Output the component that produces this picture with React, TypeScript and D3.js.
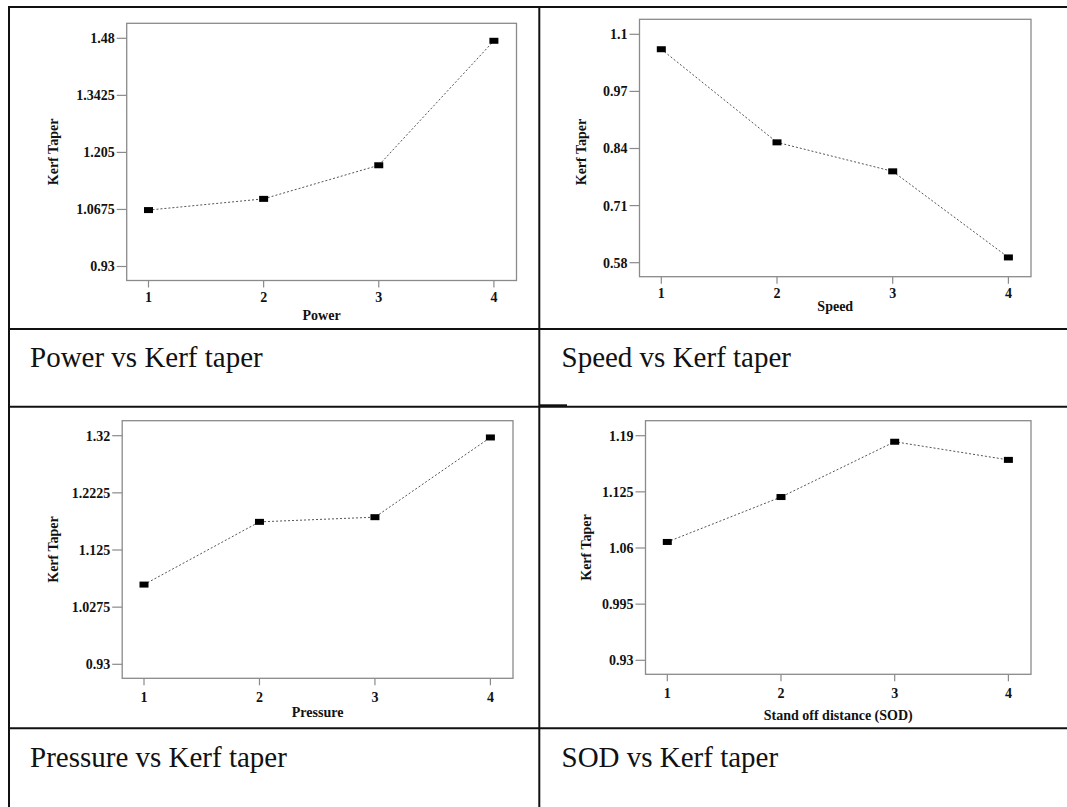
import React from "react";
import * as d3 from "d3";

// ---- data ----
const levels = [1, 2, 3, 4];
const powerTaper = [1.066, 1.093, 1.174, 1.474];
const speedTaper = [1.066, 0.854, 0.788, 0.592];
const pressureTaper = [1.066, 1.173, 1.181, 1.317];
const sodTaper = [1.067, 1.119, 1.183, 1.162];

const powerTicks = [0.93, 1.0675, 1.205, 1.3425, 1.48];
const speedTicks = [0.58, 0.71, 0.84, 0.97, 1.1];
const pressureTicks = [0.93, 1.0275, 1.125, 1.2225, 1.32];
const sodTicks = [0.93, 0.995, 1.06, 1.125, 1.19];

const powerTickLabels = ["0.93", "1.0675", "1.205", "1.3425", "1.48"];
const speedTickLabels = ["0.58", "0.71", "0.84", "0.97", "1.1"];
const pressureTickLabels = ["0.93", "1.0275", "1.125", "1.2225", "1.32"];
const sodTickLabels = ["0.93", "0.995", "1.06", "1.125", "1.19"];

const xTitles = ["Power", "Speed", "Pressure", "Stand off distance (SOD)"];
const yTitle = "Kerf Taper";
const captions = ["Power vs Kerf taper", "Speed vs Kerf taper", "Pressure vs Kerf taper", "SOD vs Kerf taper"];

// ---- layout ----
const W = 1067;
const H = 807;
const serif = "'Liberation Serif', 'Times New Roman', serif";

type Layout = {
  left: number; top: number; right: number; bottom: number;
  yLabelX: number; yLabelDy: number; tickBase: number; titleBase: number; capX: number; capBase: number;
};

const layouts: Layout[] = [
  { left: 126.7, top: 23.3, right: 516.5, bottom: 280.5, yLabelX: 57.5, yLabelDy: 0, tickBase: 302, titleBase: 320, capX: 30, capBase: 367 },
  { left: 639.5, top: 19.3, right: 1031, bottom: 276.7, yLabelX: 586, yLabelDy: 4, tickBase: 298, titleBase: 311, capX: 561.5, capBase: 367 },
  { left: 122.2, top: 420.7, right: 513, bottom: 678.3, yLabelX: 57.5, yLabelDy: 0, tickBase: 702, titleBase: 717, capX: 30, capBase: 767 },
  { left: 645.5, top: 420.7, right: 1031, bottom: 674.3, yLabelX: 590.5, yLabelDy: 0, tickBase: 698, titleBase: 720, capX: 561.5, capBase: 767 },
];

const series = [powerTaper, speedTaper, pressureTaper, sodTaper];
const ticks = [powerTicks, speedTicks, pressureTicks, sodTicks];
const tickLabels = [powerTickLabels, speedTickLabels, pressureTickLabels, sodTickLabels];

const PAD_X = 21.8;
const PAD_TOP = 15;
const PAD_BOT = 14;

function Panel({ i }: { i: number }) {
  const L = layouts[i];
  const vals = series[i];
  const tk = ticks[i];
  const labs = tickLabels[i];
  const x = d3.scaleLinear().domain([1, 4]).range([L.left + PAD_X, L.right - PAD_X - 0.8]);
  const y = d3
    .scaleLinear()
    .domain([d3.min(tk) as number, d3.max(tk) as number])
    .range([L.bottom - PAD_BOT, L.top + PAD_TOP]);
  const line = d3
    .line<number>()
    .x((_, j) => x(levels[j]))
    .y((d) => y(d));
  const cx = (L.left + L.right) / 2;
  const cy = (L.top + L.bottom) / 2;
  return (
    <g>
      <rect
        x={L.left}
        y={L.top}
        width={L.right - L.left}
        height={L.bottom - L.top}
        fill="none"
        stroke="#8a8a8a"
        strokeWidth={1.3}
      />
      {tk.map((t, j) => (
        <g key={"yt" + j}>
          <line x1={L.left - 10} x2={L.left} y1={y(t)} y2={y(t)} stroke="#8a8a8a" strokeWidth={1.2} />
          <text
            x={L.left - 12}
            y={y(t)}
            dy="0.35em"
            textAnchor="end"
            fontFamily={serif}
            fontWeight="bold"
            fontSize={14}
            fill="#111"
          >
            {labs[j]}
          </text>
        </g>
      ))}
      {levels.map((lv) => (
        <g key={"xt" + lv}>
          <line x1={x(lv)} x2={x(lv)} y1={L.bottom} y2={L.bottom + 7} stroke="#8a8a8a" strokeWidth={1.2} />
          <text
            x={x(lv)}
            y={L.tickBase}
            textAnchor="middle"
            fontFamily={serif}
            fontWeight="bold"
            fontSize={14}
            fill="#111"
          >
            {lv}
          </text>
        </g>
      ))}
      <text
        x={cx}
        y={L.titleBase}
        textAnchor="middle"
        fontFamily={serif}
        fontWeight="bold"
        fontSize={14}
        fill="#111"
      >
        {xTitles[i]}
      </text>
      <text
        transform={`translate(${L.yLabelX},${cy + L.yLabelDy}) rotate(-90)`}
        textAnchor="middle"
        fontFamily={serif}
        fontWeight="bold"
        fontSize={14}
        fill="#111"
      >
        {yTitle}
      </text>
      <path d={line(vals) || ""} fill="none" stroke="#555" strokeWidth={1} strokeDasharray="2,2" />
      {vals.map((v, j) => (
        <rect key={"m" + j} x={x(levels[j]) - 4.5} y={y(v) - 3} width={9} height={6} fill="#000" />
      ))}
      <text x={L.capX} y={L.capBase} fontFamily={serif} fontSize={29} fill="#111">
        {captions[i]}
      </text>
    </g>
  );
}

export default function App() {
  return (
    <div style={{ position: "absolute", left: 0, top: 0, width: W, height: H, background: "#fff" }}>
      <svg width={W} height={H} viewBox={`0 0 ${W} ${H}`} style={{ display: "block" }}>
        <rect x={0} y={0} width={W} height={H} fill="#fff" />
        {/* table grid */}
        <g stroke="#111" strokeWidth={2}>
          <line x1={8} x2={W} y1={7} y2={7} />
          <line x1={9} x2={9} y1={6} y2={H} />
          <line x1={539.3} x2={539.3} y1={6} y2={H} />
          <line x1={8} x2={W} y1={329} y2={329} />
          <line x1={8} x2={W} y1={406.7} y2={406.7} />
          <line x1={539} x2={567} y1={405.3} y2={405.3} />
          <line x1={8} x2={W} y1={728.3} y2={728.3} />
        </g>
        {[0, 1, 2, 3].map((i) => (
          <Panel key={i} i={i} />
        ))}
      </svg>
    </div>
  );
}
